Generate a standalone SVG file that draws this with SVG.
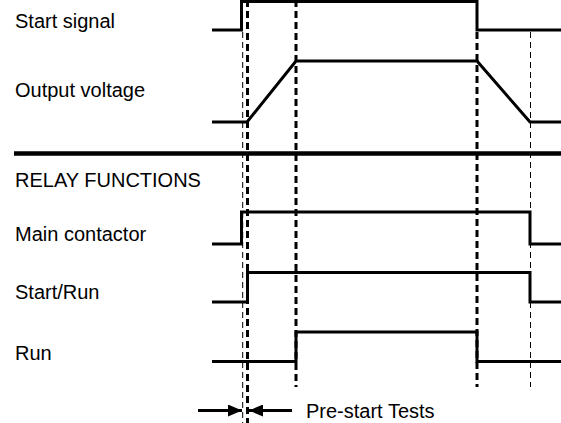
<svg xmlns="http://www.w3.org/2000/svg" width="561" height="423" viewBox="0 0 561 423">
<style>
text{font-family:"Liberation Sans",Arial,sans-serif;font-size:20px;fill:#000}
.sig{fill:none;stroke:#000;stroke-width:3}
.thick{stroke:#000;stroke-width:3;stroke-dasharray:7 4}
.thin{stroke:#000;stroke-width:1;stroke-dasharray:6 4}
.arr{stroke:#000;stroke-width:3}
</style>
<defs>
<marker id="ah" viewBox="0 0 14 12" refX="14" refY="6" markerWidth="14" markerHeight="12" markerUnits="userSpaceOnUse" orient="auto">
<path d="M0,0 L14,6 L0,12 Z" fill="#000"/>
</marker>
</defs>
<rect width="561" height="423" fill="#fff"/>
<g id="labels">
<text x="15" y="28">Start signal</text>
<text x="15" y="97">Output voltage</text>
<text x="15" y="187">RELAY FUNCTIONS</text>
<text x="15" y="241">Main contactor</text>
<text x="15" y="299">Start/Run</text>
<text x="15" y="360">Run</text>
</g>
<g id="separator">
<line x1="14" y1="153.5" x2="561" y2="153.5" stroke="#000" stroke-width="4.5"/>
</g>
<g id="guides">
<line class="thin" x1="242.7" y1="32" x2="242.7" y2="423"/>
<line class="thick" x1="247.5" y1="0" x2="247.5" y2="423"/>
<line class="thick" x1="296" y1="0" x2="296" y2="387"/>
<line class="thick" x1="477" y1="32" x2="477" y2="387"/>
<line class="thin" x1="530.5" y1="32" x2="530.5" y2="387"/>
</g>
<g id="start-signal"><path class="sig" d="M212,30 H241.5 V1.5 H477 V30 H561"/></g>
<g id="output-voltage"><path class="sig" d="M212,122 H247 L296,61 H477 L530,122 H561"/></g>
<g id="main-contactor"><path class="sig" d="M212,244 H241.5 V212 H530 V244 H561"/></g>
<g id="start-run"><path class="sig" d="M212,302 H247.5 V272.5 H530 V302 H561"/></g>
<g id="run"><path class="sig" d="M212,361.5 H296 V332 H477 V361.5 H561"/></g>
<g id="connectors">
<line class="arr" x1="198" y1="410.5" x2="242" y2="410.5" marker-end="url(#ah)"/>
<line class="arr" x1="292" y1="410.5" x2="249" y2="410.5" marker-end="url(#ah)"/>
</g>
<g id="prestart-label"><text x="306" y="418">Pre-start Tests</text></g>
</svg>
